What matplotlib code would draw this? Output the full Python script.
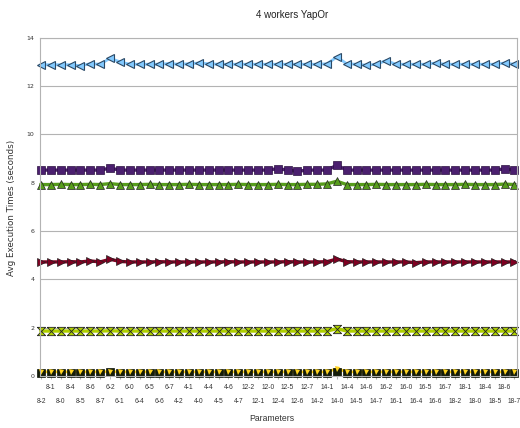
import matplotlib.pyplot as plt
import numpy as np

# parameter combinations, in the order they were run
params = ['8-2', '8-1', '8-0', '8-4', '8-5', '8-6', '8-7',
          '6-2', '6-1', '6-0', '6-4', '6-5', '6-6', '6-7',
          '4-2', '4-1', '4-0', '4-4', '4-5', '4-6', '4-7',
          '12-2', '12-1', '12-0', '12-4', '12-5', '12-6', '12-7',
          '14-2', '14-1', '14-0', '14-4', '14-5', '14-6', '14-7',
          '16-2', '16-1', '16-0', '16-4', '16-5', '16-6', '16-7',
          '18-2', '18-1', '18-0', '18-4', '18-5', '18-6', '18-7']

# average execution times (seconds), one list per benchmark
bench_a = [0.17, 0.17, 0.17, 0.17, 0.17, 0.17, 0.17, 0.18, 0.17, 0.17, 0.17, 0.17, 0.17, 0.17,
           0.17, 0.17, 0.17, 0.17, 0.17, 0.17, 0.17, 0.17, 0.17, 0.17, 0.17, 0.17, 0.17, 0.17,
           0.17, 0.17, 0.30, 0.17, 0.17, 0.17, 0.17, 0.17, 0.17, 0.17, 0.17, 0.17, 0.17, 0.17,
           0.17, 0.17, 0.17, 0.17, 0.17, 0.17, 0.17]
bench_b = [0.14, 0.14, 0.14, 0.14, 0.14, 0.14, 0.14, 0.15, 0.14, 0.14, 0.14, 0.14, 0.14, 0.14,
           0.14, 0.14, 0.14, 0.14, 0.14, 0.14, 0.14, 0.14, 0.14, 0.14, 0.14, 0.14, 0.14, 0.14,
           0.14, 0.14, 0.16, 0.14, 0.14, 0.14, 0.14, 0.14, 0.14, 0.14, 0.14, 0.14, 0.14, 0.14,
           0.14, 0.14, 0.14, 0.14, 0.14, 0.14, 0.14]
bench_c = [7.92, 7.92, 7.93, 7.92, 7.92, 7.93, 7.92, 7.96, 7.92, 7.92, 7.92, 7.93, 7.92, 7.92,
           7.92, 7.93, 7.92, 7.92, 7.92, 7.92, 7.93, 7.92, 7.92, 7.92, 7.93, 7.92, 7.92, 7.93,
           7.93, 7.95, 8.06, 7.92, 7.92, 7.92, 7.93, 7.92, 7.92, 7.92, 7.92, 7.93, 7.92, 7.92,
           7.92, 7.93, 7.92, 7.92, 7.92, 7.94, 7.92]
bench_d = [4.72, 4.72, 4.72, 4.73, 4.72, 4.76, 4.72, 4.83, 4.74, 4.72, 4.72, 4.72, 4.73, 4.72,
           4.72, 4.72, 4.72, 4.72, 4.72, 4.73, 4.72, 4.72, 4.72, 4.72, 4.72, 4.73, 4.72, 4.72,
           4.72, 4.73, 4.84, 4.73, 4.72, 4.72, 4.72, 4.72, 4.72, 4.72, 4.69, 4.72, 4.72, 4.72,
           4.72, 4.72, 4.72, 4.72, 4.72, 4.72, 4.72]
bench_e = [12.88, 12.88, 12.88, 12.88, 12.84, 12.92, 12.9, 13.15, 13.0, 12.9, 12.9, 12.9, 12.9, 12.93,
           12.9, 12.92, 12.95, 12.92, 12.9, 12.9, 12.9, 12.9, 12.9, 12.9, 12.9, 12.9, 12.9, 12.9,
           12.9, 12.92, 13.2, 12.92, 12.9, 12.86, 12.9, 13.05, 12.9, 12.9, 12.9, 12.9, 12.95, 12.9,
           12.9, 12.9, 12.9, 12.9, 12.9, 12.95, 12.9]
bench_f = [1.86, 1.86, 1.86, 1.86, 1.86, 1.86, 1.86, 1.87, 1.86, 1.86, 1.86, 1.86, 1.86, 1.86,
           1.86, 1.86, 1.86, 1.86, 1.86, 1.86, 1.86, 1.86, 1.86, 1.86, 1.86, 1.86, 1.86, 1.86,
           1.86, 1.86, 1.96, 1.86, 1.86, 1.86, 1.86, 1.86, 1.86, 1.86, 1.86, 1.86, 1.86, 1.86,
           1.86, 1.86, 1.86, 1.86, 1.86, 1.86, 1.86]
bench_g = [8.52, 8.52, 8.52, 8.52, 8.52, 8.52, 8.52, 8.6, 8.52, 8.52, 8.52, 8.52, 8.52, 8.52,
           8.52, 8.52, 8.52, 8.52, 8.52, 8.52, 8.52, 8.52, 8.52, 8.52, 8.58, 8.52, 8.47, 8.52,
           8.52, 8.52, 8.72, 8.52, 8.52, 8.52, 8.52, 8.52, 8.52, 8.52, 8.52, 8.52, 8.52, 8.52,
           8.52, 8.52, 8.52, 8.52, 8.52, 8.57, 8.52]

hourglass = [(-1, 1), (1, 1), (-1, -1), (1, -1), (-1, 1)]

x = np.arange(len(params))

fig = plt.figure(figsize=(5.2, 4.28), dpi=100)
ax = fig.add_axes([0.077, 0.1215, 0.917, 0.7905])

edge = '#222222'
# near-zero pair: yellow line first, dark squares over it, small yellow triangles on top
ax.plot(x, bench_a, color='#ffd320', lw=2, clip_on=False)
ax.plot(x, bench_b, color='#314004', lw=0, marker='s', ms=5.8, mfc='#141c08', mec='#0c1205',
        mew=0.5, clip_on=False)
ax.plot(x, bench_a, lw=0, marker='v', ms=3.6, mfc='#ffd320', mec='#ffd320', mew=0, clip_on=False)
ax.plot(x, bench_c, color='#579d1c', lw=2.4, marker='^', ms=5.8, mfc='#579d1c', mec=edge, mew=0.5,
        clip_on=False)
ax.plot(x, bench_d, color='#7e0021', lw=2.4, marker='>', ms=6, mfc='#7e0021', mec=edge, mew=0.5,
        clip_on=False)
ax.plot(x, bench_e, color='#83caff', lw=2, marker='<', ms=5.6, mfc='#83caff', mec='#2c4a66', mew=0.8,
        clip_on=False)
ax.plot(x, bench_f, color='#aecf00', lw=2.4, marker=hourglass, ms=6, mfc='#aecf00', mec=edge,
        mew=0.6, clip_on=False)
ax.plot(x, bench_g, color='#4b1f6f', lw=2.4, marker='s', ms=5.2, mfc='#4b1f6f', mec='#2a1040', mew=0.5,
        clip_on=False)

ax.set_xlim(-0.1, 48.25)
ax.set_ylim(0, 14)
ax.set_yticks(np.arange(0, 15, 2))
ax.tick_params(axis='y', labelsize=4.5, length=0, pad=4, labelcolor='#333333')
ax.grid(axis='y', color='#b3b3b3', lw=0.8)
ax.set_axisbelow(True)

# labels alternate between two rows: even positions low, odd positions high
ax.set_xticks(x[::2])
ax.set_xticklabels(params[::2], fontsize=4.8, color='#333333', family='Liberation Sans')
ax.set_xticks(x[1::2], minor=True)
ax.set_xticklabels(params[1::2], minor=True, fontsize=4.8, color='#333333', family='Liberation Sans')
ax.tick_params(axis='x', which='major', length=2.5, color='#b3b3b3', pad=13)
ax.tick_params(axis='x', which='minor', length=2.5, color='#b3b3b3', pad=3.5)

for s in ['left', 'right', 'top', 'bottom']:
    ax.spines[s].set_color('#b3b3b3')
    ax.spines[s].set_linewidth(0.8)

fig.text(0.562, 0.965, '4 workers YapOr', ha='center', va='center',
         fontsize=7, family='Liberation Sans', color='#222222')
fig.text(0.023, 0.514, 'Avg Execution Times (seconds)', rotation=90, ha='center', va='center',
         fontsize=6.3, color='#333333')
fig.text(0.523, 0.022, 'Parameters', ha='center', va='center',
         fontsize=6.2, family='Liberation Sans', color='#333333')

fig.savefig('out.png', dpi=100)
